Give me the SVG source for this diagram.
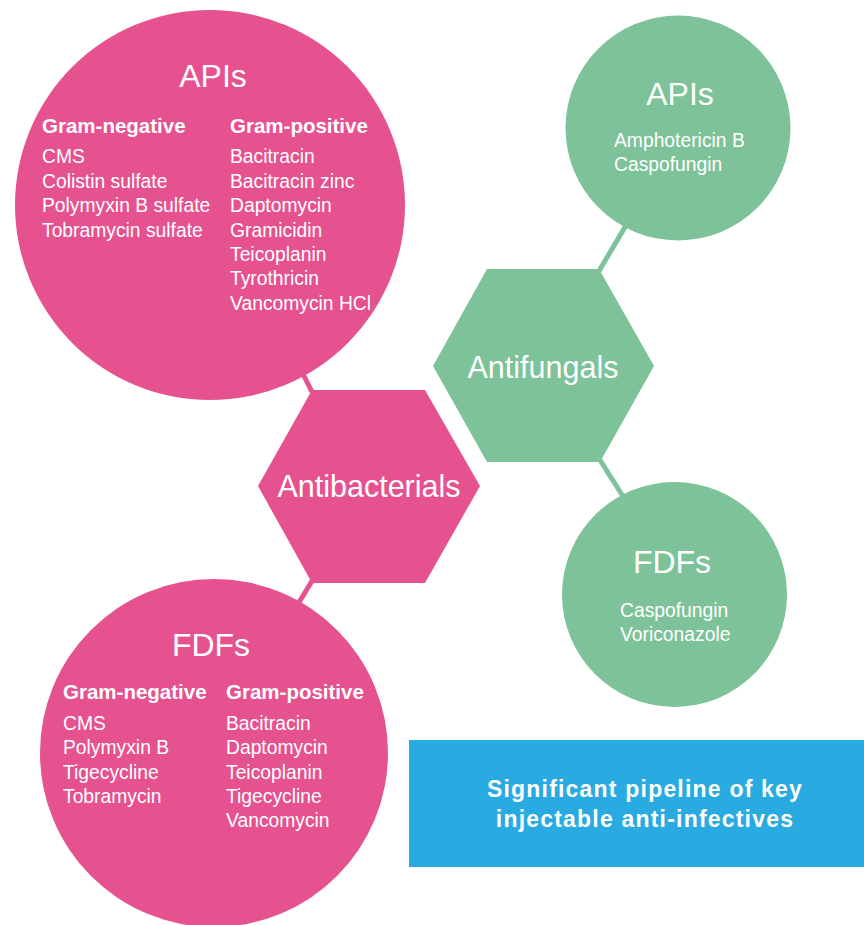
<svg xmlns="http://www.w3.org/2000/svg" width="864" height="925" viewBox="0 0 864 925">
<style>
.pink{fill:#E5528F}
.green{fill:#7DC298}
.lp{stroke:#E5528F;stroke-width:5;fill:none}
.lg{stroke:#7DC298;stroke-width:5;fill:none}
text{font-family:"Liberation Sans",Arial,sans-serif;fill:#fff}
.big{font-size:32px}
.hex{font-size:30.5px}
.hd{font-size:20.5px;font-weight:bold}
.it{font-size:19.3px}
.box{font-size:23px;font-weight:bold;letter-spacing:1.2px}
</style>
<rect width="864" height="925" fill="#fff"/>
<g id="connectors">
<line class="lp" x1="312" y1="392" x2="300" y2="368"/>
<line class="lp" x1="312" y1="581" x2="298" y2="604"/>
<line class="lg" x1="599" y1="271" x2="628" y2="222"/>
<line class="lg" x1="600" y1="460" x2="624" y2="498"/>
</g>
<g id="antibacterials-apis">
<circle class="pink" cx="210" cy="205" r="195"/>
<text class="big" x="213" y="87" text-anchor="middle">APIs</text>
<text class="hd" x="42" y="133">Gram-negative</text>
<text class="hd" x="230" y="133">Gram-positive</text>
<text class="it" x="42" y="163">CMS</text>
<text class="it" x="42" y="188">Colistin sulfate</text>
<text class="it" x="42" y="212">Polymyxin B sulfate</text>
<text class="it" x="42" y="237">Tobramycin sulfate</text>
<text class="it" x="230" y="163">Bacitracin</text>
<text class="it" x="230" y="188">Bacitracin zinc</text>
<text class="it" x="230" y="212">Daptomycin</text>
<text class="it" x="230" y="237">Gramicidin</text>
<text class="it" x="230" y="261">Teicoplanin</text>
<text class="it" x="230" y="285">Tyrothricin</text>
<text class="it" x="230" y="310">Vancomycin HCl</text>
</g>
<g id="antibacterials">
<polygon class="pink" points="258,486 312,390 425,390 480,486 425,583 312,583"/>
<text class="hex" x="369" y="497" text-anchor="middle">Antibacterials</text>
</g>
<g id="antibacterials-fdfs">
<circle class="pink" cx="214" cy="753" r="174"/>
<text class="big" x="211" y="656" text-anchor="middle">FDFs</text>
<text class="hd" x="63" y="699">Gram-negative</text>
<text class="hd" x="226" y="699">Gram-positive</text>
<text class="it" x="63" y="730">CMS</text>
<text class="it" x="63" y="754">Polymyxin B</text>
<text class="it" x="63" y="779">Tigecycline</text>
<text class="it" x="63" y="803">Tobramycin</text>
<text class="it" x="226" y="730">Bacitracin</text>
<text class="it" x="226" y="754">Daptomycin</text>
<text class="it" x="226" y="779">Teicoplanin</text>
<text class="it" x="226" y="803">Tigecycline</text>
<text class="it" x="226" y="827">Vancomycin</text>
</g>
<g id="antifungals-apis">
<circle class="green" cx="678" cy="128" r="112.5"/>
<text class="big" x="680" y="105" text-anchor="middle">APIs</text>
<text class="it" x="614" y="147">Amphotericin B</text>
<text class="it" x="614" y="171">Caspofungin</text>
</g>
<g id="antifungals">
<polygon class="green" points="433,366 487,269 599,269 654,366 600,462 487,462"/>
<text class="hex" x="543" y="378" text-anchor="middle">Antifungals</text>
</g>
<g id="antifungals-fdfs">
<circle class="green" cx="674.5" cy="594.5" r="112.5"/>
<text class="big" x="672" y="573" text-anchor="middle">FDFs</text>
<text class="it" x="620" y="617">Caspofungin</text>
<text class="it" x="620" y="641">Voriconazole</text>
</g>
<g id="summary">
<rect x="409" y="740" width="455" height="127" fill="#29ABE2"/>
<text class="box" x="645" y="797" text-anchor="middle">Significant pipeline of key</text>
<text class="box" x="645" y="827" text-anchor="middle">injectable anti-infectives</text>
</g>
</svg>
